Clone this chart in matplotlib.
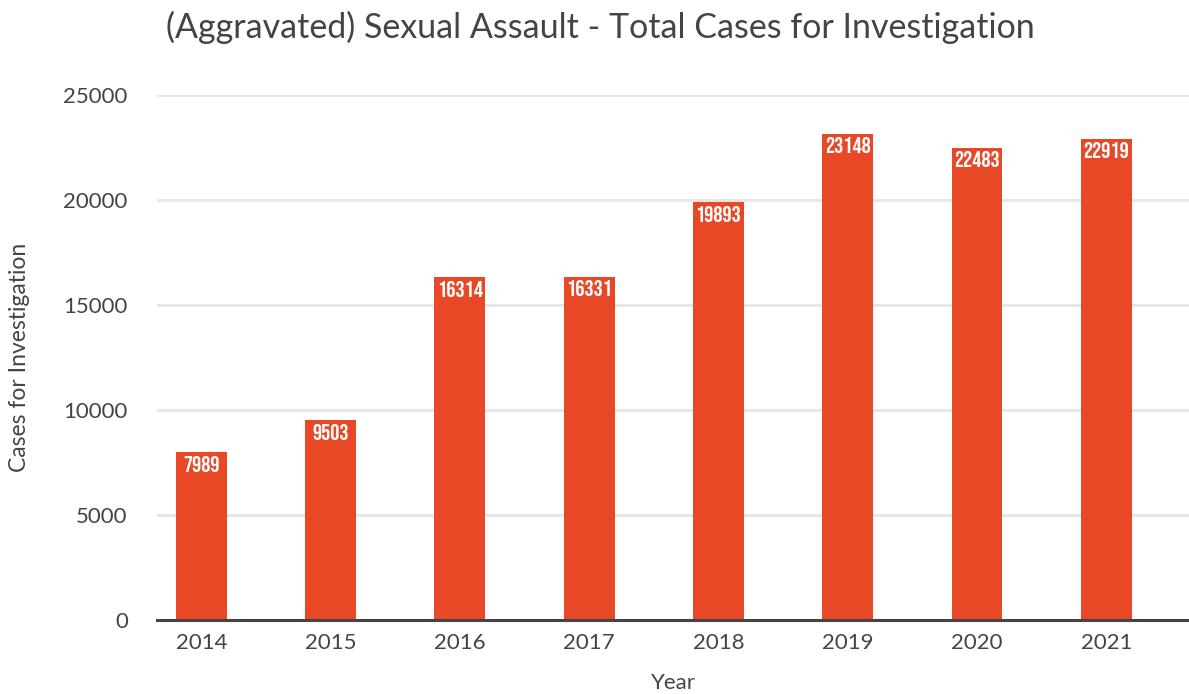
import matplotlib.pyplot as plt

years = ['2014', '2015', '2016', '2017', '2018', '2019', '2020', '2021']
cases = [7989, 9503, 16314, 16331, 19893, 23148, 22483, 22919]
yticks = [0, 5000, 10000, 15000, 20000, 25000]

bar_col = '#e84826'
txt_col = '#444444'
label_fonts = ['Bebas Neue', 'Oswald', 'DejaVu Sans']

plt.rcParams['font.family'] = ['Lato', 'DejaVu Sans']

fig = plt.figure(figsize=(11.89, 6.94), dpi=100)
ax = fig.add_axes([0.132, 0.1066, 0.868, 0.7565])

x = range(len(years))
bars = ax.bar(x, cases, width=0.394, color=bar_col, zorder=3)

# value labels sit just inside the top of each bar
for b, v in zip(bars, cases):
    ax.text(b.get_x() + b.get_width() / 2, v - 160, str(v), ha='center', va='top',
            color='white', fontsize=16.5, family=label_fonts, zorder=4)

ax.set_xlim(-0.344, 7.64)
ax.set_ylim(0, 25000)
ax.set_yticks(yticks)
ax.set_xticks(list(x))
ax.set_xticklabels(years)
ax.tick_params(axis='both', length=0, labelsize=16, colors=txt_col)
ax.tick_params(axis='y', pad=21)
ax.tick_params(axis='x', pad=9)

ax.grid(axis='y', color='#e6e6e6', linewidth=2, zorder=0)
ax.set_axisbelow(True)
for s in ['top', 'right', 'left']:
    ax.spines[s].set_visible(False)
ax.spines['bottom'].set_color('#444444')
ax.spines['bottom'].set_linewidth(2.2)
ax.spines['bottom'].set_zorder(5)

ax.set_xlabel('Year', fontsize=16, color=txt_col, labelpad=15)
ax.set_ylabel('Cases for Investigation', fontsize=16.5, color=txt_col, labelpad=24)

fig.text(0.505, 0.985, '(Aggravated) Sexual Assault - Total Cases for Investigation',
         ha='center', va='top', fontsize=24.5, color=txt_col)

fig.savefig('out.png', dpi=100)
